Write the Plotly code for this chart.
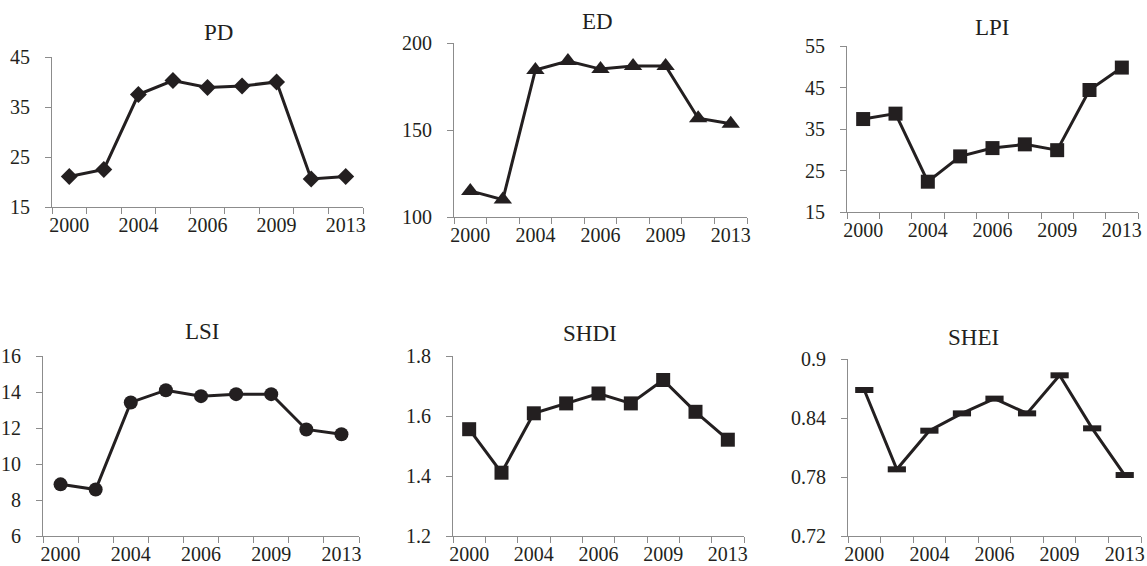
import plotly.graph_objects as go

# Year categories (every other one is labelled on the x axis)
years = ["2000", "2002", "2004", "2005", "2006", "2007", "2009", "2011", "2013"]
labelled_years = ["2000", "2004", "2006", "2009", "2013"]

# Landscape metrics per year
pd_vals = [21.1, 22.5, 37.5, 40.3, 38.9, 39.2, 40.0, 20.6, 21.1]
ed_vals = [115.0, 110.0, 184.5, 189.6, 185.0, 186.8, 186.8, 156.8, 153.6]
lpi_vals = [37.4, 38.7, 22.3, 28.4, 30.4, 31.3, 29.9, 44.4, 49.8]
lsi_vals = [8.87, 8.58, 13.42, 14.10, 13.77, 13.88, 13.88, 11.92, 11.65]
shdi_vals = [1.556, 1.411, 1.609, 1.642, 1.675, 1.642, 1.720, 1.614, 1.521]
shei_vals = [0.8685, 0.7878, 0.8271, 0.8447, 0.8597, 0.8447, 0.8834, 0.8295, 0.7820]

titles = ["PD", "ED", "LPI", "LSI", "SHDI", "SHEI"]
series = [pd_vals, ed_vals, lpi_vals, lsi_vals, shdi_vals, shei_vals]
y_ranges = [(15, 45), (100, 200), (15, 55), (6, 16), (1.2, 1.8), (0.72, 0.9)]
y_steps = [10, 50, 10, 2, 0.2, 0.06]

W, H = 1147, 566
INK = "#231f20"
AXIS = "#8c8c8c"
FONT = "Liberation Serif"

# plot-area boxes in pixels: (left, right, top, bottom)
boxes = [
    (52, 363, 57, 207),
    (454, 747, 43, 217),
    (847, 1138, 46, 212),
    (43, 359, 356, 536),
    (453, 744, 356, 536),
    (848, 1141, 359, 536),
]
# title centres in pixels
title_pos = [(218, 33), (597, 21), (992, 27), (202, 332), (590, 333), (973, 337)]

markers = [
    dict(symbol="diamond", size=13, color=INK),
    dict(symbol="triangle-up", size=16, color=INK),
    dict(symbol="square", size=14, color=INK),
    dict(symbol="circle", size=14, color=INK),
    dict(symbol="square", size=14, color=INK),
    dict(symbol="line-ew", size=13, color=INK, line=dict(color=INK, width=6)),
]

# only every other year carries a label; ticks sit on category boundaries
x_ticktext = [y if y in labelled_years else "" for y in years]

fig = go.Figure()
layout = dict(
    width=W, height=H,
    margin=dict(l=0, r=0, t=0, b=0, autoexpand=False),
    paper_bgcolor="white", plot_bgcolor="white",
    showlegend=False,
    font=dict(family=FONT, color=INK, size=20),
    annotations=[],
)

for i, (title, vals) in enumerate(zip(titles, series)):
    n = i + 1
    xa = "x" if n == 1 else f"x{n}"
    ya = "y" if n == 1 else f"y{n}"
    fig.add_trace(go.Scatter(
        x=years, y=vals, xaxis=xa, yaxis=ya,
        mode="lines+markers",
        line=dict(color=INK, width=3),
        marker=markers[i],
        cliponaxis=False,
    ))
    l, r, t, b = boxes[i]
    xkey = "xaxis" if n == 1 else f"xaxis{n}"
    ykey = "yaxis" if n == 1 else f"yaxis{n}"
    layout[xkey] = dict(
        domain=[l / W, r / W], anchor=ya,
        type="category", categoryorder="array", categoryarray=years,
        range=[-0.5, len(years) - 0.5],
        tickmode="array", tickvals=years, ticktext=x_ticktext,
        tickson="boundaries", tickangle=0, automargin=False,
        ticks="outside", ticklen=6, tickcolor=AXIS, tickwidth=1,
        showline=True, linecolor=AXIS, linewidth=1,
        showgrid=False, zeroline=False,
        tickfont=dict(family=FONT, size=20, color=INK),
    )
    lo, hi = y_ranges[i]
    layout[ykey] = dict(
        domain=[1 - b / H, 1 - t / H], anchor=xa,
        range=[lo, hi], tickmode="linear", tick0=lo, dtick=y_steps[i],
        ticks="outside", ticklen=6, tickcolor=AXIS, tickwidth=1,
        showline=True, linecolor=AXIS, linewidth=1,
        showgrid=False, zeroline=False, automargin=False,
        tickfont=dict(family=FONT, size=20, color=INK),
        ticklabelstandoff=11,
    )
    tx, ty = title_pos[i]
    layout["annotations"].append(dict(
        text=title, x=tx / W, y=1 - ty / H, xref="paper", yref="paper",
        xanchor="center", yanchor="middle", showarrow=False,
        font=dict(family=FONT, size=23, color=INK),
    ))

fig.update_layout(**layout)
fig.write_html("out.html")
